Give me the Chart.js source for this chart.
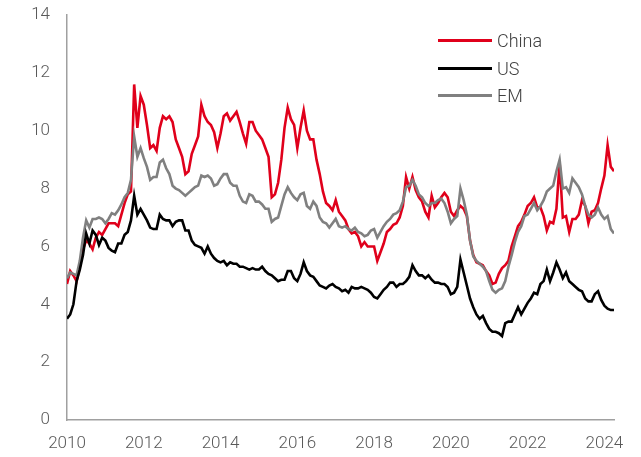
<!DOCTYPE html>
<html>
<head>
<meta charset="utf-8">
<script src="https://cdn.jsdelivr.net/npm/chart.js@4.4.1/dist/chart.umd.min.js"></script>
<style>
  body { margin: 0; background: #fff; }
  #wrap { position: relative; width: 641px; height: 457px; }
  #legend {
    position: absolute; left: 438px; top: 27px;
    font-family: Roboto, 'Liberation Sans', sans-serif; font-weight: 300;
    font-size: 18px; color: #404040;
  }
  .item { display: flex; align-items: center; height: 27.5px; }
  .swatch { width: 54px; height: 3px; margin-right: 5px; }
</style>
</head>
<body>
<div id="wrap">
  <canvas id="chart"></canvas>
  <div id="legend"></div>
</div>
<script>
// monthly series, Jan 2010 - Apr 2024
const startYear = 2010;
const seriesNames = ['China', 'US', 'EM'];
const seriesColors = ['#e0001b', '#000000', '#808080'];

const china = [
  4.7, 5.15, 5.0, 4.8, 5.3, 5.9, 6.2, 6.1, 5.9, 6.3, 6.5, 6.4,
  6.6, 6.8, 6.8, 6.8, 6.7, 7.1, 7.5, 7.8, 7.9, 11.6, 10.1, 11.2,
  10.9, 10.2, 9.4, 9.5, 9.3, 10.1, 10.5, 10.4, 10.5, 10.3, 9.7, 9.4,
  9.1, 8.5, 8.6, 9.2, 9.5, 9.8, 10.9, 10.5, 10.3, 10.2, 9.95, 9.4,
  9.9, 10.5, 10.6, 10.35, 10.5, 10.65, 10.3, 9.9, 9.55, 10.3, 10.3, 10.0,
  9.85, 9.7, 9.4, 9.1, 7.7, 7.8, 8.2, 9.0, 10.1, 10.8, 10.4, 10.2,
  9.4, 10.1, 10.7, 10.0, 9.7, 9.7, 9.0, 8.5, 7.9, 7.5, 7.4, 7.25,
  7.6, 7.2, 7.05, 6.9, 6.6, 6.45, 6.5, 6.35, 6.0, 6.15, 6.0, 6.0,
  6.0, 5.5, 5.8, 6.1, 6.5, 6.6, 6.75, 6.8, 7.0, 7.4, 8.4, 8.0,
  8.4, 7.95, 7.7, 7.55, 7.2, 7.0, 7.75, 7.35, 7.5, 7.7, 7.85, 7.7,
  7.2, 7.05, 7.25, 7.4, 7.3, 7.05, 6.2, 5.7, 5.45, 5.4, 5.35, 5.15,
  5.0, 4.7, 4.75, 5.05, 5.25, 5.35, 5.5, 6.0, 6.35, 6.7, 6.85, 7.1,
  7.4, 7.5, 7.7, 7.35, 7.35, 7.05, 6.55, 6.85, 6.8, 7.3, 8.9, 7.0,
  7.05, 6.5, 6.95, 6.95, 7.1, 7.6, 7.4, 6.8, 7.2, 7.25, 7.5, 8.0,
  8.45, 9.5, 8.75, 8.6
];

const us = [
  3.5, 3.65, 4.0, 4.8, 5.2, 5.7, 6.45, 6.1, 6.55, 6.4, 6.05, 6.3,
  6.2, 5.95, 5.85, 5.8, 6.1, 6.1, 6.4, 6.5, 6.9, 7.75, 7.1, 7.3,
  7.1, 6.9, 6.65, 6.6, 6.6, 7.1, 6.95, 6.9, 6.9, 6.7, 6.85, 6.9,
  6.9, 6.55, 6.55, 6.2, 6.05, 6.0, 5.95, 5.75, 6.0, 5.75, 5.6, 5.5,
  5.45, 5.5, 5.35, 5.45, 5.4, 5.4, 5.3, 5.3, 5.25, 5.2, 5.25, 5.2,
  5.2, 5.3, 5.15, 5.05, 5.0, 4.9, 4.8, 4.85, 4.85, 5.15, 5.15, 4.9,
  4.8, 5.05, 5.45, 5.15, 5.0, 4.95, 4.8, 4.65, 4.6, 4.55, 4.65, 4.7,
  4.6, 4.55, 4.45, 4.5, 4.4, 4.6, 4.55, 4.55, 4.6, 4.55, 4.5, 4.4,
  4.25, 4.2, 4.35, 4.5, 4.6, 4.75, 4.75, 4.6, 4.7, 4.7, 4.8, 4.95,
  5.35, 5.15, 5.0, 5.0, 4.9, 5.0, 4.85, 4.75, 4.75, 4.7, 4.7, 4.6,
  4.35, 4.4, 4.6, 5.55, 5.1, 4.65, 4.2, 3.9, 3.65, 3.5, 3.6, 3.35,
  3.15, 3.05, 3.05, 3.0, 2.9, 3.35, 3.4, 3.4, 3.65, 3.9, 3.65, 3.85,
  4.05, 4.2, 4.4, 4.35, 4.7, 4.8, 5.2, 4.8, 5.1, 5.45, 5.2, 4.9,
  5.1, 4.8, 4.7, 4.6, 4.5, 4.45, 4.2, 4.1, 4.1, 4.35, 4.45, 4.15,
  3.95, 3.85, 3.8, 3.8
];

const em = [
  4.9, 5.1, 5.05, 5.0, 5.5, 6.3, 6.9, 6.65, 6.95, 6.95, 7.0, 6.95,
  6.8, 6.95, 7.15, 7.1, 7.25, 7.45, 7.7, 7.85, 8.3, 9.8, 9.1, 9.4,
  9.05, 8.75, 8.3, 8.4, 8.4, 8.9, 9.0, 8.7, 8.5, 8.1, 8.0, 7.95,
  7.85, 7.75, 7.85, 7.95, 8.05, 8.1, 8.45, 8.4, 8.45, 8.35, 8.1, 8.15,
  8.35, 8.5, 8.5, 8.2, 8.1, 8.1, 7.75, 7.55, 7.5, 7.8, 7.75, 7.55,
  7.55, 7.45, 7.3, 7.3, 6.85, 6.95, 7.0, 7.4, 7.8, 8.05, 7.85, 7.7,
  7.6, 7.8, 7.85, 7.4, 7.3, 7.55, 7.4, 7.0, 6.85, 6.8, 6.65, 6.8,
  6.95, 6.7, 6.65, 6.7, 6.6, 6.55, 6.65, 6.5, 6.45, 6.35, 6.4, 6.55,
  6.6, 6.3, 6.5, 6.7, 6.85, 6.95, 7.1, 7.15, 7.25, 7.55, 8.05, 8.1,
  8.3, 8.1, 7.8, 7.7, 7.5, 7.4, 7.5, 7.5, 7.6, 7.65, 7.5, 7.2,
  6.8, 6.95, 7.05, 8.0, 7.6, 7.1, 6.2, 5.65, 5.5, 5.4, 5.3, 5.15,
  4.8, 4.5, 4.4, 4.5, 4.55, 4.8, 5.3, 5.7, 6.15, 6.5, 6.7, 7.05,
  7.1, 7.3, 7.5, 7.25, 7.4, 7.6, 7.9, 8.0, 8.1, 8.6, 9.0, 8.0,
  8.05, 7.85, 8.35, 8.2, 8.05, 7.8, 7.4, 7.1, 7.0, 7.1, 7.35, 7.1,
  6.95, 7.05, 6.6, 6.45
];

const yTicks = { min: 0, max: 14, step: 2 };
const xTicks = { min: 2010, step: 2 };

const toPoints = arr => arr.map((v, i) => ({ x: startYear + i / 12, y: v }));
const lastX = startYear + (china.length - 1) / 12;

const tickFont = { family: "Roboto, 'Liberation Sans', sans-serif", size: 17, weight: '300' };
const axisGray = '#a0a0a0';

const datasets = [china, us, em].map((arr, k) => ({
  label: seriesNames[k],
  data: toPoints(arr),
  borderColor: seriesColors[k],
  backgroundColor: seriesColors[k],
  borderWidth: 2.6,
  pointRadius: 0,
  tension: 0,
  order: [3, 1, 2][k]
}));

new Chart(document.getElementById('chart').getContext('2d'), {
  type: 'line',
  data: { datasets: datasets },
  options: {
    responsive: true,
    maintainAspectRatio: false,
    animation: false,
    layout: { padding: { top: 15, right: 27, left: 0, bottom: 0 } },
    plugins: { legend: { display: false }, tooltip: { enabled: false } },
    scales: {
      x: {
        type: 'linear',
        min: xTicks.min,
        max: lastX,
        grid: { display: false, drawTicks: false },
        border: { display: true, color: axisGray, width: 1.5 },
        ticks: {
          stepSize: xTicks.step,
          includeBounds: false,
          padding: 14,
          color: '#595959',
          font: tickFont,
          maxRotation: 0,
          callback: v => String(v)
        },
        afterFit: s => { s.height = 37; }
      },
      y: {
        min: yTicks.min,
        max: yTicks.max,
        grid: { display: false, drawTicks: false },
        border: { display: true, color: axisGray, width: 1.5 },
        ticks: {
          stepSize: yTicks.step,
          padding: 17,
          color: '#595959',
          font: tickFont
        },
        // tick padding would otherwise push the plot top down
        afterFit: s => { s.width = 67; s.paddingTop = 0; s.paddingBottom = 0; }
      }
    }
  }
});

// legend: line swatch + label, stacked top right
const legend = document.getElementById('legend');
seriesNames.forEach((name, k) => {
  const row = document.createElement('div');
  row.className = 'item';
  const sw = document.createElement('span');
  sw.className = 'swatch';
  sw.style.background = seriesColors[k];
  const txt = document.createElement('span');
  txt.textContent = name;
  row.appendChild(sw);
  row.appendChild(txt);
  legend.appendChild(row);
});
</script>
</body>
</html>
